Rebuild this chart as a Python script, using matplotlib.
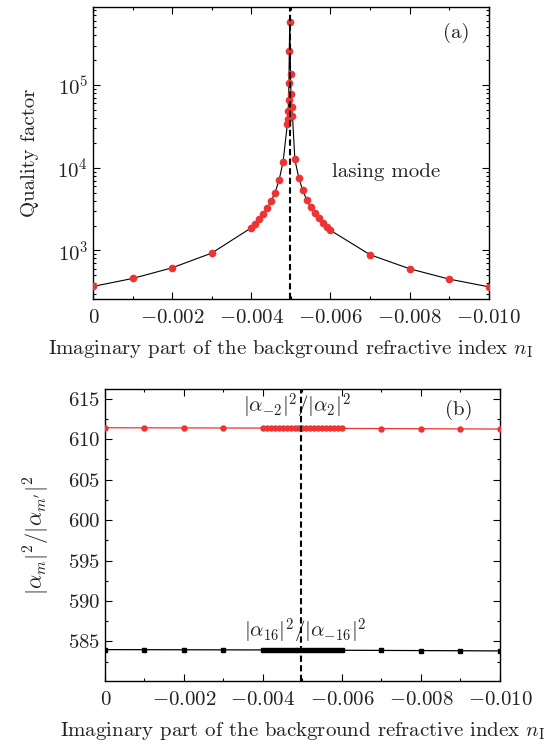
import matplotlib
matplotlib.use('Agg')
import matplotlib.pyplot as plt
from matplotlib.ticker import MultipleLocator, LogLocator, NullFormatter

plt.rcParams['font.family'] = 'serif'
plt.rcParams['font.serif'] = ['cmr10']
plt.rcParams['mathtext.fontset'] = 'cm'
plt.rcParams['axes.formatter.use_mathtext'] = True
plt.rcParams['axes.unicode_minus'] = True

# ---- panel (a): quality factor of the lasing mode
nI_a = [0, -0.001, -0.002, -0.003, -0.004, -0.0041, -0.0042, -0.0043, -0.0044,
        -0.0045, -0.0046, -0.0047, -0.0048, -0.00491, -0.00492, -0.00493,
        -0.00494, -0.00495, -0.00496, -0.00497, -0.00499, -0.00500, -0.00502,
        -0.00504, -0.0051, -0.0052, -0.0053, -0.0054, -0.0055, -0.0056,
        -0.0057, -0.0058, -0.0059, -0.0060, -0.007, -0.008, -0.009, -0.010]
Q = [367, 458, 617, 929, 1880, 2100, 2370, 2750, 3250,
     3950, 5020, 7080, 11600, 33500, 38800, 48500,
     66400, 105000, 258000, 582000, 136000, 77200, 54200,
     41800, 12600, 7500, 5320, 4070, 3340, 2860,
     2460, 2160, 1930, 1750, 887, 600, 450, 363]

# ---- panel (b): intensity ratios of the angular components
nI_b = [0, -0.001, -0.002, -0.003,
        -0.0040, -0.0041, -0.0042, -0.0043, -0.0044, -0.0045, -0.0046,
        -0.0047, -0.0048, -0.0049, -0.0050, -0.0051, -0.0052, -0.0053,
        -0.0054, -0.0055, -0.0056, -0.0057, -0.0058, -0.0059, -0.0060,
        -0.007, -0.008, -0.009, -0.010]
ratio_red = [611.42, 611.41, 611.40, 611.39,
             611.38, 611.38, 611.38, 611.37, 611.37, 611.37, 611.37,
             611.36, 611.36, 611.36, 611.36, 611.36, 611.35, 611.35,
             611.35, 611.35, 611.34, 611.34, 611.34, 611.34, 611.34,
             611.32, 611.30, 611.28, 611.26]
ratio_black = [583.98, 583.97, 583.96, 583.95,
               583.94, 583.94, 583.94, 583.94, 583.93, 583.93, 583.93,
               583.93, 583.93, 583.92, 583.92, 583.92, 583.92, 583.92,
               583.91, 583.91, 583.91, 583.91, 583.91, 583.90, 583.90,
               583.88, 583.86, 583.84, 583.82]

nI_ep = -0.00497
red = '#ee3333'
txt = '#222222'

fig = plt.figure(figsize=(5.58, 7.44), dpi=100)
ax1 = fig.add_axes([0.1667, 0.598, 0.7093, 0.3926])
ax2 = fig.add_axes([0.188, 0.0847, 0.708, 0.3923])

fs = 15

# (a)
ax1.plot(nI_a, Q, '-', color='black', lw=0.8, zorder=2)
ax1.plot(nI_a, Q, 'o', color=red, ms=4.5, mec=red, zorder=3)
ax1.axvline(nI_ep, color='black', ls='--', lw=1.5, dashes=(3, 1.6), zorder=4)
ax1.set_yscale('log')
ax1.set_ylim(258, 8.8e5)
ax1.set_xlim(0, -0.010)
ax1.yaxis.set_major_locator(LogLocator(base=10, numticks=10))
ax1.yaxis.set_minor_locator(LogLocator(base=10, subs=range(2, 10), numticks=20))
ax1.yaxis.set_minor_formatter(NullFormatter())
ax1.set_ylabel('Quality factor', fontsize=fs, labelpad=13, color=txt)
ax1.text(-0.0074, 9000, 'lasing mode', fontsize=fs, ha='center', va='center', color=txt)
ax1.text(0.917, 0.91, '(a)', transform=ax1.transAxes, fontsize=fs,
         ha='center', va='center', color=txt)

# (b)
ax2.plot(nI_b, ratio_red, '-', color=red, lw=0.9, zorder=2)
ax2.plot(nI_b, ratio_red, 'o', color=red, ms=3.6, zorder=3)
ax2.plot(nI_b, ratio_black, '-', color='black', lw=0.9, zorder=2)
ax2.plot(nI_b, ratio_black, 's', color='black', ms=3.4, zorder=3)
ax2.axvline(nI_ep, color='black', ls='--', lw=1.5, dashes=(3, 1.6), zorder=4)
ax2.set_xlim(0, -0.010)
ax2.set_ylim(580.1, 616.2)
ax2.set_yticks([585, 590, 595, 600, 605, 610, 615])
ax2.yaxis.set_minor_locator(MultipleLocator(2.5))
ax2.set_ylabel(r'$|\alpha_m|^2/|\alpha_{m^\prime}|^2$', fontsize=fs + 1, labelpad=11, color=txt)
ax2.text(-0.00487, 614.0, r'$|\alpha_{-2}|^2/|\alpha_2|^2$', fontsize=fs,
         ha='center', va='center', color=txt)
ax2.text(-0.00506, 586.2, r'$|\alpha_{16}|^2/|\alpha_{-16}|^2$', fontsize=fs,
         ha='center', va='center', color=txt)
ax2.text(0.895, 0.93, '(b)', transform=ax2.transAxes, fontsize=fs,
         ha='center', va='center', color=txt)

for ax in (ax1, ax2):
    ax.xaxis.set_major_locator(MultipleLocator(0.002))
    ax.xaxis.set_minor_locator(MultipleLocator(0.001))
    ax.tick_params(which='both', direction='in', top=True, right=True,
                   labelsize=fs, width=0.8, labelcolor=txt)
    ax.tick_params(which='major', length=5)
    ax.tick_params(which='minor', length=2.5)
    ax.tick_params(axis='x', pad=7)
    ax.set_xlabel(r'Imaginary part of the background refractive index $n_{\rm I}$',
                  fontsize=fs, labelpad=8, color=txt)
    for s in ax.spines.values():
        s.set_linewidth(1.0)
    ax.set_xticks([0, -0.002, -0.004, -0.006, -0.008, -0.010])
    ax.set_xticklabels(['0', r'$-0.002$', r'$-0.004$', r'$-0.006$', r'$-0.008$', r'$-0.010$'])

fig.savefig('out.png', dpi=100)
